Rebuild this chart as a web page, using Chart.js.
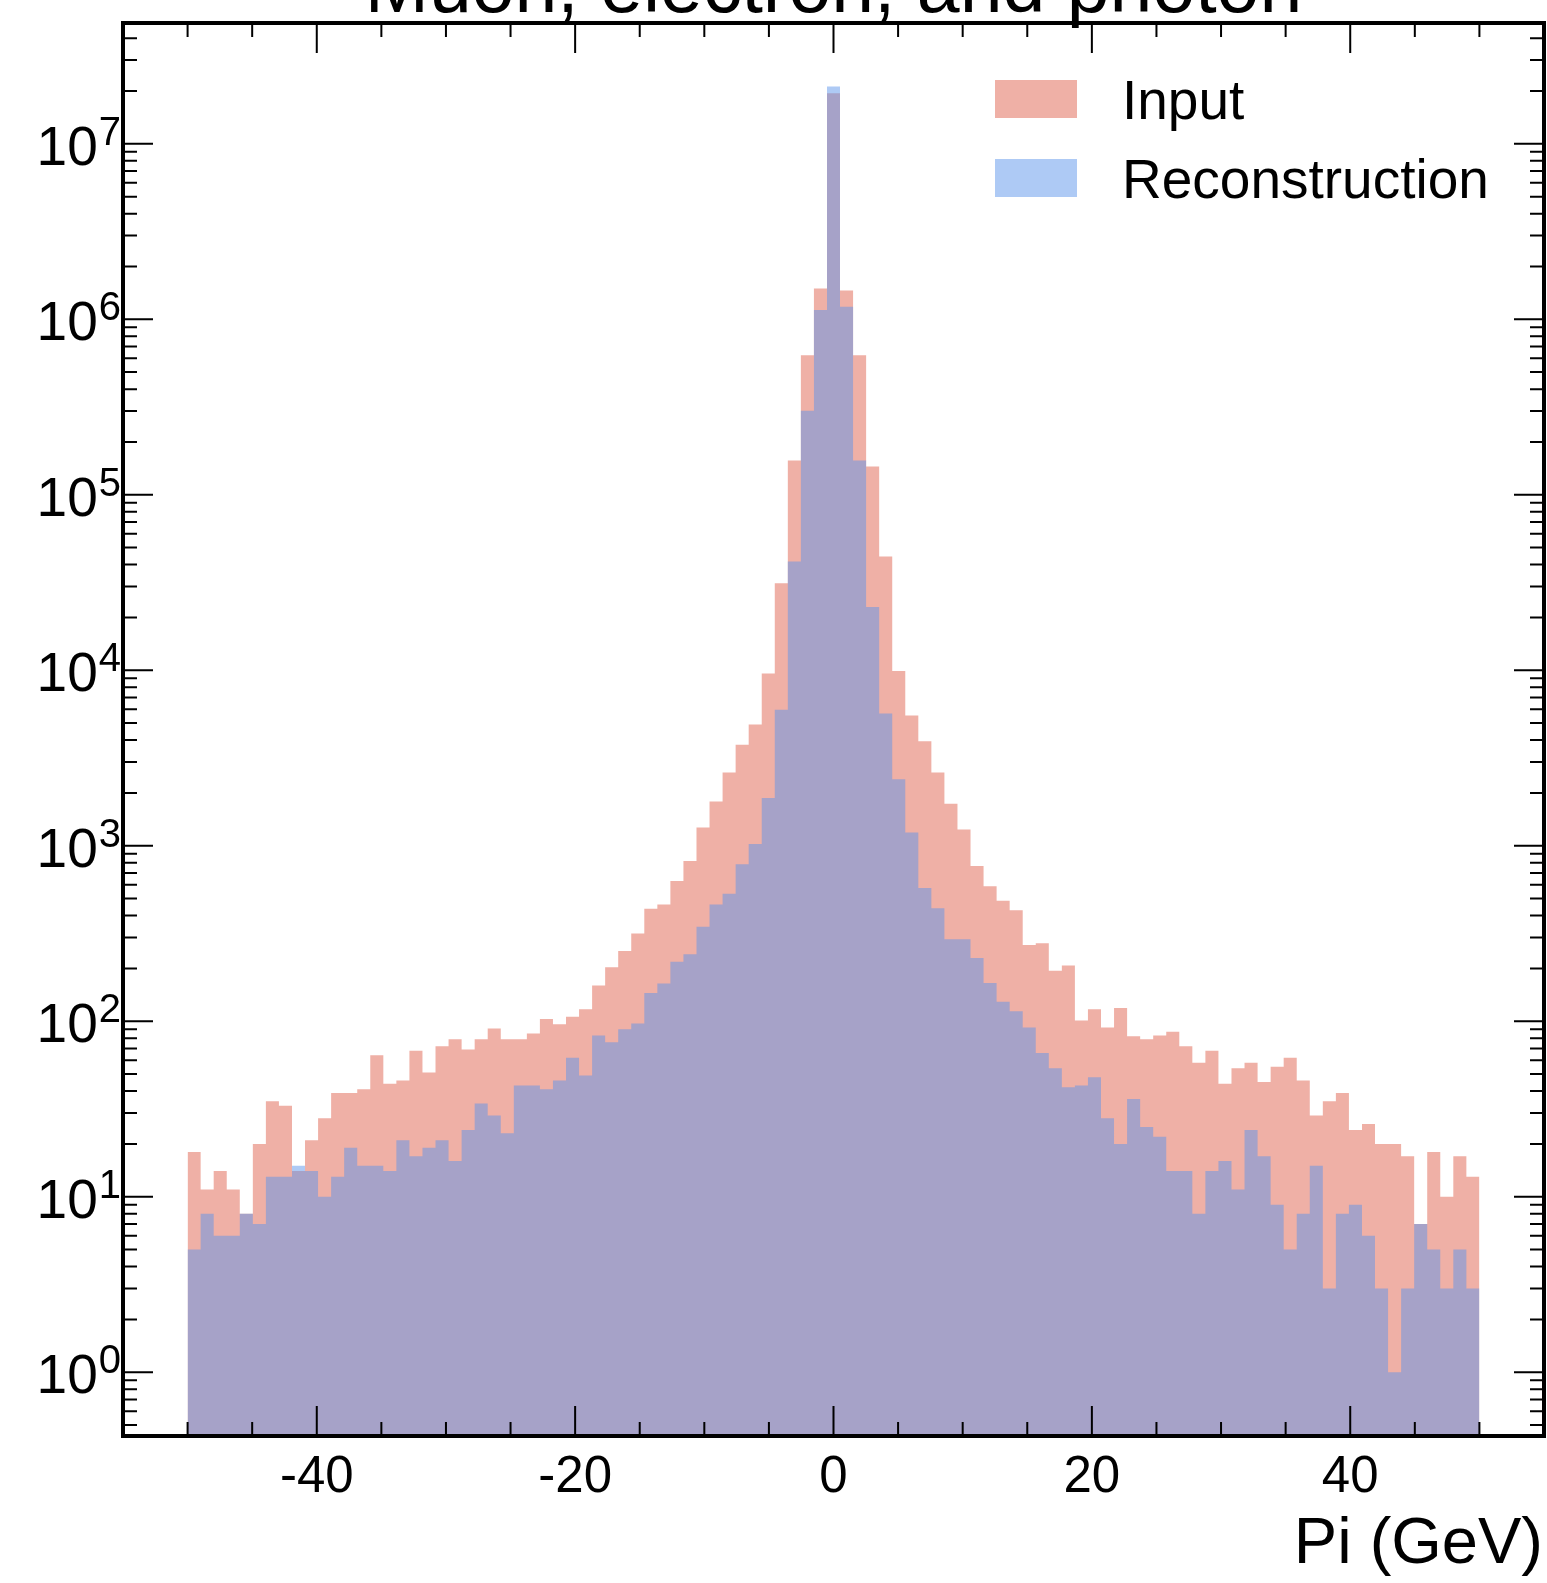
<!DOCTYPE html>
<html>
<head>
<meta charset="utf-8">
<title>Muon, electron, and photon</title>
<script src="https://cdn.jsdelivr.net/npm/chart.js@4.4.1/dist/chart.umd.min.js"></script>
<style>
  html, body { margin: 0; padding: 0; background: #fff; }
  canvas { display: block; }
</style>
</head>
<body>
<canvas id="histChart" width="1547" height="1583"></canvas>
<script>
// 99 equal bins between -50 and 50 GeV
const binLow = -50;
const binHigh = 50;

const inputCounts = [
  18, 11, 14, 11, 8, 20, 35, 33, 14, 21,
  28, 39, 39, 41, 64, 44, 46, 68, 51, 72,
  79, 69, 79, 91, 79, 79, 85, 103, 96, 106,
  117, 160, 203, 251, 316, 438, 462, 630, 819, 1270,
  1787, 2617, 3760, 4915, 9600, 31300, 157000, 624000, 1500000, 19400000,
  1460000, 624000, 145000, 44500, 9900, 5520, 3945, 2617, 1734, 1239,
  767, 588, 486, 429, 272, 278, 194, 208, 101, 117,
  92, 119, 82, 79, 83, 87, 72, 58, 68, 44,
  54, 58, 45, 55, 62, 46, 29, 35, 39, 24,
  26, 20, 20, 17, 7, 18, 10, 17, 13
];

const recoCounts = [
  5, 8, 6, 6, 8, 7, 13, 13, 15, 14,
  10, 13, 19, 15, 15, 14, 21, 17, 19, 21,
  16, 24, 34, 29, 23, 43, 43, 41, 46, 62,
  49, 83, 76, 90, 97, 145, 164, 218, 241, 346,
  462, 533, 784, 1024, 1874, 5960, 41700, 301000, 1130000, 21200000,
  1180000, 157000, 22900, 5670, 2390, 1189, 574, 441, 293, 293,
  229, 165, 129, 114, 92, 66, 54, 42, 43, 48,
  28, 20, 36, 25, 22, 14, 14, 8, 14, 16,
  11, 24, 17, 9, 5, 8, 15, 3, 8, 9,
  6, 3, 1, 3, 7, 5, 3, 5, 3
];

const seriesNames = ["Input", "Reconstruction"];
const xMajorTicks = [-40, -20, 0, 20, 40];
const xMinorTicks = [-50, -45, -35, -30, -25, -15, -10, -5, 5, 10, 15, 25, 30, 35, 45, 50];
const yDecades = [0, 1, 2, 3, 4, 5, 6, 7];
const titleText = "Muon, electron, and photon";
const xTitle = "Pi (GeV)";

const inputColor = "rgba(224, 98, 78, 0.5)";
const recoColor = "rgba(93, 150, 235, 0.5)";
const FONT = '"Liberation Sans", Arial, Helvetica, sans-serif';

// turn bin counts into a step outline (left edge, right edge per bin)
function stepPoints(counts) {
  const w = (binHigh - binLow) / counts.length;
  const pts = [];
  counts.forEach((c, i) => {
    pts.push({ x: binLow + i * w, y: c });
    pts.push({ x: binLow + (i + 1) * w, y: c });
  });
  return pts;
}

const frameAndTicks = {
  id: "frameAndTicks",
  afterDraw(chart) {
    const ctx = chart.ctx;
    const area = chart.chartArea;
    const xs = chart.scales.x;
    const ys = chart.scales.y;
    ctx.save();
    ctx.strokeStyle = "#000";
    ctx.fillStyle = "#000";

    // ticks point inward on all four sides
    ctx.lineWidth = 2;
    ctx.beginPath();
    xMajorTicks.forEach(v => {
      const px = xs.getPixelForValue(v);
      ctx.moveTo(px, area.bottom); ctx.lineTo(px, area.bottom - 30);
      ctx.moveTo(px, area.top); ctx.lineTo(px, area.top + 30);
    });
    xMinorTicks.forEach(v => {
      const px = xs.getPixelForValue(v);
      ctx.moveTo(px, area.bottom); ctx.lineTo(px, area.bottom - 14);
      ctx.moveTo(px, area.top); ctx.lineTo(px, area.top + 14);
    });
    for (let d = -1; d <= 7; d++) {
      for (let m = 1; m <= 9; m++) {
        const v = m * Math.pow(10, d);
        if (v < ys.min || v > ys.max) continue;
        const py = ys.getPixelForValue(v);
        const len = m === 1 ? 30 : 14;
        ctx.moveTo(area.left, py); ctx.lineTo(area.left + len, py);
        ctx.moveTo(area.right, py); ctx.lineTo(area.right - len, py);
      }
    }
    ctx.stroke();

    // frame
    ctx.lineWidth = 4;
    ctx.strokeRect(area.left, area.top, area.right - area.left, area.bottom - area.top);

    // x tick labels
    ctx.font = "51px " + FONT;
    ctx.textAlign = "center";
    ctx.textBaseline = "alphabetic";
    xMajorTicks.forEach(v => {
      ctx.fillText(String(v), xs.getPixelForValue(v), 1492);
    });

    // y tick labels 10^n, right aligned
    ctx.textAlign = "left";
    yDecades.forEach(d => {
      const py = ys.getPixelForValue(Math.pow(10, d));
      const exp = String(d);
      ctx.font = "40px " + FONT;
      const expW = ctx.measureText(exp).width;
      ctx.font = "55px " + FONT;
      const baseW = ctx.measureText("10").width;
      const x0 = 120 - expW - baseW;
      ctx.fillText("10", x0, py + 21);
      ctx.font = "40px " + FONT;
      ctx.fillText(exp, x0 + baseW + 1, py + 1);
    });

    // axis title
    ctx.font = "65px " + FONT;
    ctx.textAlign = "right";
    ctx.fillText(xTitle, 1543, 1563);

    // title (runs off the top edge like the original)
    ctx.font = "77px " + FONT;
    ctx.textAlign = "center";
    ctx.fillText(titleText, (area.left + area.right) / 2, 12);

    // legend
    const colors = [inputColor, recoColor];
    const rowY = [80, 159];
    ctx.font = "55px " + FONT;
    ctx.textAlign = "left";
    seriesNames.forEach((name, i) => {
      ctx.fillStyle = "#fff";
      ctx.fillRect(995, rowY[i], 82, 38);
      ctx.fillStyle = colors[i];
      ctx.fillRect(995, rowY[i], 82, 38);
      ctx.fillStyle = "#000";
      ctx.fillText(name, 1122, rowY[i] + 39);
    });
    ctx.restore();
  }
};

new Chart(document.getElementById("histChart"), {
  type: "line",
  data: {
    datasets: [
      {
        label: seriesNames[1],
        data: stepPoints(recoCounts),
        backgroundColor: recoColor,
        borderColor: "rgba(0,0,0,0)",
        borderWidth: 0,
        pointRadius: 0,
        fill: "start"
      },
      {
        label: seriesNames[0],
        data: stepPoints(inputCounts),
        backgroundColor: inputColor,
        borderColor: "rgba(0,0,0,0)",
        borderWidth: 0,
        pointRadius: 0,
        fill: "start"
      }
    ]
  },
  options: {
    responsive: false,
    animation: false,
    layout: { padding: { left: 123, right: 3, top: 23, bottom: 147 } },
    plugins: {
      legend: { display: false },
      tooltip: { enabled: false }
    },
    scales: {
      x: { type: "linear", min: -55, max: 55, display: false },
      y: { type: "logarithmic", min: 0.433, max: 4.88e7, display: false }
    },
    events: []
  },
  plugins: [frameAndTicks]
});
</script>
</body>
</html>
